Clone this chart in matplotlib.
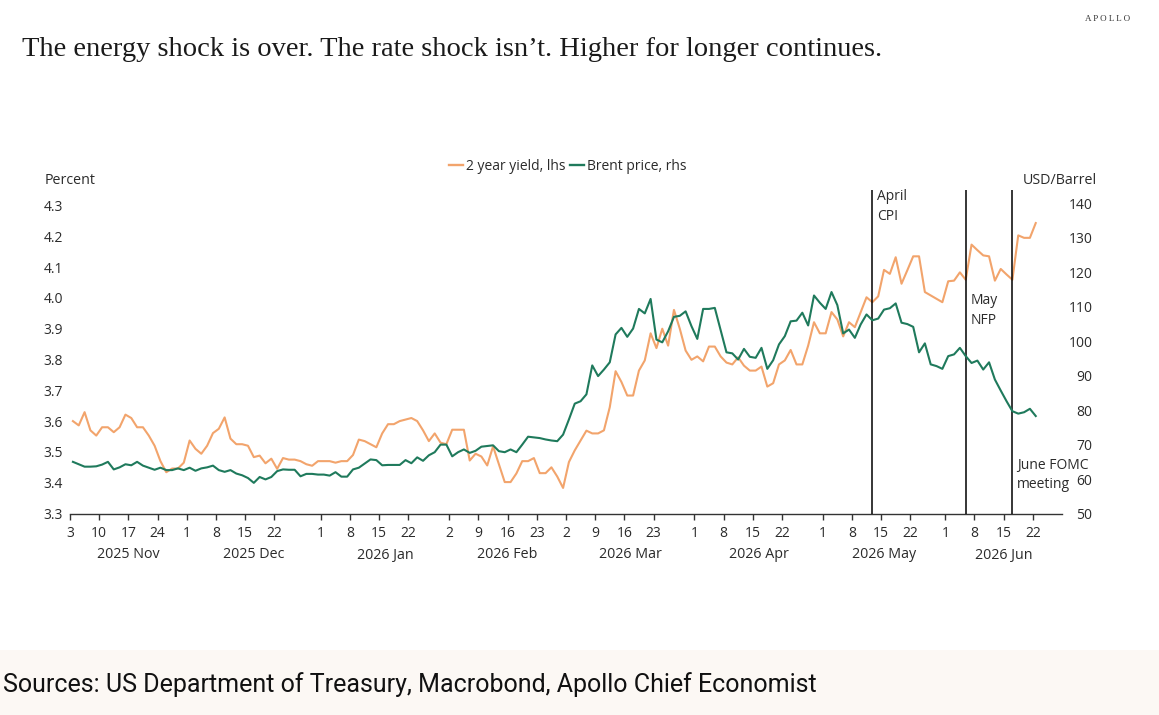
import matplotlib
matplotlib.use("Agg")
import matplotlib.pyplot as plt
import matplotlib.transforms as mtransforms
from matplotlib.lines import Line2D
from matplotlib.patches import Rectangle
import numpy as np
import pandas as pd

# ---------------- data ----------------
START_DATE = "2025-11-03"   # first business day of the series

# 2 year yield, percent (lhs), one value per business day
yield_2y = [
    3.600, 3.586, 3.629, 3.570, 3.553, 3.580, 3.580, 3.564, 3.580, 3.621,
    3.610, 3.580, 3.580, 3.553, 3.520, 3.470, 3.434, 3.446, 3.446, 3.465,
    3.537, 3.510, 3.494, 3.520, 3.561, 3.575, 3.612, 3.543, 3.525, 3.525,
    3.520, 3.483, 3.488, 3.463, 3.478, 3.445, 3.480, 3.475, 3.475, 3.470,
    3.460, 3.455, 3.470, 3.470, 3.470, 3.465, 3.470, 3.470, 3.490, 3.540,
    3.535, 3.525, 3.515, 3.560, 3.590, 3.590, 3.600, 3.605, 3.610, 3.600,
    3.570, 3.535, 3.560, 3.530, 3.525, 3.572, 3.572, 3.572, 3.472, 3.494,
    3.485, 3.456, 3.518, 3.460, 3.402, 3.402, 3.430, 3.470, 3.470, 3.480,
    3.431, 3.431, 3.450, 3.420, 3.383, 3.467, 3.505, 3.537, 3.569, 3.560,
    3.560, 3.570, 3.645, 3.762, 3.727, 3.683, 3.683, 3.764, 3.797, 3.885,
    3.837, 3.900, 3.845, 3.961, 3.900, 3.829, 3.799, 3.810, 3.794, 3.842,
    3.842, 3.810, 3.790, 3.784, 3.807, 3.780, 3.764, 3.764, 3.777, 3.712,
    3.723, 3.784, 3.797, 3.831, 3.784, 3.784, 3.845, 3.921, 3.885, 3.885,
    3.954, 3.930, 3.875, 3.921, 3.905, 3.954, 4.002, 3.986, 4.005, 4.091,
    4.078, 4.132, 4.046, 4.090, 4.135, 4.135, 4.019, 4.008, 3.997, 3.986,
    4.054, 4.056, 4.083, 4.059, 4.173, 4.155, 4.138, 4.135, 4.056, 4.094,
    4.076, 4.059, 4.203, 4.195, 4.195, 4.243,
]

# Brent price, USD/barrel (rhs)
brent = [
    65.0, 64.3, 63.6, 63.6, 63.7, 64.2, 65.0, 62.8, 63.4, 64.3,
    64.0, 65.0, 63.9, 63.3, 62.7, 63.3, 62.6, 62.6, 63.1, 62.6,
    63.3, 62.4, 63.1, 63.4, 63.9, 62.6, 62.1, 62.6, 61.6, 61.1,
    60.3, 58.9, 60.6, 59.9, 60.6, 62.3, 62.8, 62.7, 62.7, 60.8,
    61.5, 61.5, 61.3, 61.3, 61.0, 62.0, 60.7, 60.7, 62.8, 63.3,
    64.5, 65.7, 65.5, 64.0, 64.1, 64.1, 64.1, 65.5, 64.6, 66.3,
    65.3, 66.9, 67.8, 70.0, 70.0, 66.6, 67.8, 68.6, 67.6, 68.2,
    69.4, 69.6, 69.8, 68.1, 67.8, 68.6, 67.8, 70.0, 72.3, 72.1,
    71.9, 71.5, 71.2, 71.0, 72.9, 77.3, 81.9, 82.6, 84.6, 93.0,
    89.9, 91.8, 93.9, 102.0, 103.9, 101.3, 103.7, 109.4, 108.1, 112.3,
    100.5, 99.7, 102.9, 107.1, 107.4, 108.7, 104.4, 100.7, 109.4, 109.4,
    109.7, 103.2, 96.8, 96.5, 94.7, 97.8, 95.5, 95.2, 98.1, 92.0,
    94.5, 99.1, 101.5, 105.8, 106.0, 108.3, 104.6, 113.3, 111.2, 109.4,
    114.3, 110.5, 102.3, 103.4, 101.0, 104.9, 107.8, 106.1, 106.6, 109.2,
    109.6, 111.0, 105.4, 105.0, 104.2, 96.8, 99.4, 93.3, 92.8, 92.0,
    95.7, 96.2, 98.1, 95.7, 93.7, 94.4, 91.8, 93.9, 88.9, 85.7,
    82.6, 79.7, 79.0, 79.4, 80.4, 78.3,
]

event_dates = ["2026-05-13", "2026-06-04", "2026-06-16"]
event_labels = ["April\nCPI", "May\nNFP", "June FOMC\nmeeting"]

left_ticks = [3.3, 3.4, 3.5, 3.6, 3.7, 3.8, 3.9, 4.0, 4.1, 4.2, 4.3]
right_ticks = [50, 60, 70, 80, 90, 100, 110, 120, 130, 140]
tick_days = [1, 8, 15, 22]

title = "The energy shock is over. The rate shock isn\u2019t. Higher for longer continues."
source = "Sources: US Department of Treasury, Macrobond, Apollo Chief Economist"

# ---------------- styling ----------------
ORANGE = "#F2A46C"
GREEN = "#1F7A5C"
TXT = "#2b2b2b"
SANS = ["Open Sans", "DejaVu Sans"]
SERIF = ["Liberation Serif", "DejaVu Serif"]

W, H = 1159, 715
fig = plt.figure(figsize=(W / 100, H / 100), dpi=100)
fig.patch.set_facecolor("white")

# footer band
fig.patches.append(Rectangle((0, 0), 1, 65 / H, transform=fig.transFigure,
                             facecolor="#FCF8F4", edgecolor="none", zorder=0))

ax_l, ax_r, ax_b, ax_t = 70, 1062, 513.5, 190
ax = fig.add_axes([ax_l / W, (H - ax_b) / H, (ax_r - ax_l) / W, (ax_b - ax_t) / H])
ax2 = ax.twinx()

dates = pd.bdate_range(START_DATE, periods=len(yield_2y))
xpos = np.arange(len(dates)) + 0.5   # points at day centres

XMAX = 170
ax.set_xlim(0, XMAX)
ax.set_ylim(3.3, 3.3 + (ax_b - ax_t) / 308.0)
ax2.set_ylim(50, 50 + (ax_b - ax_t) / 3.444)

ax.plot(xpos, yield_2y, color=ORANGE, lw=1.5, solid_joinstyle="round", zorder=3)
ax2.plot(xpos, brent, color=GREEN, lw=1.5, solid_joinstyle="round", zorder=3)

for a in (ax, ax2):
    for s in ("top", "left", "right"):
        a.spines[s].set_visible(False)
ax2.spines["bottom"].set_visible(False)
ax.spines["bottom"].set_color("#333333")
ax.spines["bottom"].set_linewidth(1.0)

ax.set_yticks(left_ticks)
ax.set_yticklabels([f"{v:.1f}" for v in left_ticks])
ax.tick_params(axis="y", length=0, pad=5, labelsize=10, labelcolor=TXT)
ax2.set_yticks(right_ticks)
ax2.set_yticklabels([str(v) for v in right_ticks])
ax2.tick_params(axis="y", length=0, pad=22, labelsize=10, labelcolor=TXT)
for lab in ax2.get_yticklabels():
    lab.set_horizontalalignment("right")

# x ticks: days 1, 8, 15, 22 of each month rolled to business day
month_starts = pd.date_range(dates[0].replace(day=1), dates[-1], freq="MS")
tpos, tlab = [], []
for m in month_starts:
    for d in tick_days:
        t = m + pd.Timedelta(days=d - 1)
        i = dates.searchsorted(t)
        if i < len(dates) and dates[i].month == m.month:
            tpos.append(i)
            tlab.append(str(dates[i].day))
ax.set_xticks(tpos)
ax.set_xticklabels(tlab)
ax.tick_params(axis="x", length=4, width=1.0, color="#333333", pad=5,
               labelsize=10, labelcolor=TXT)

for lab in ax.get_xticklabels() + ax.get_yticklabels() + ax2.get_yticklabels():
    lab.set_fontfamily(SANS)

# month labels
trans = mtransforms.blended_transform_factory(ax.transData, ax.transAxes)
for j, m in enumerate(month_starts):
    s = dates.searchsorted(m)
    nxt = m + pd.offsets.MonthBegin(1)
    e = dates.searchsorted(nxt)
    if nxt > dates[-1]:
        e = XMAX
    e = min(e, XMAX)
    ax.text((s + e) / 2, (ax_b - 555) / (ax_b - ax_t), m.strftime("%Y %b"),
            transform=trans, ha="center", va="center", fontsize=10.3,
            color=TXT, family=SANS, clip_on=False)

# event lines (each label line drawn as its own text)
label_top = [196, 300, 465]   # centre of first label line, px from top
LINE_GAP = 20                 # px between label lines
for d, lab, ytop in zip(event_dates, event_labels, label_top):
    xe = dates.searchsorted(pd.Timestamp(d)) + 0.5
    ax.axvline(xe, color="black", lw=1.1, zorder=4)
    for n, part in enumerate(lab.split("\n")):
        ypx = ytop + n * LINE_GAP
        ax.text(xe + 0.8, (ax_b - ypx) / (ax_b - ax_t), part, transform=trans,
                ha="left", va="center", fontsize=10, color=TXT, family=SANS,
                zorder=5)

# axis titles
fig.text(45 / W, 1 - 181 / H, "Percent", ha="left", va="center",
         fontsize=10.3, color=TXT, family=SANS)
fig.text(1097 / W, 1 - 181 / H, "USD/Barrel", ha="right", va="center",
         fontsize=10.3, color=TXT, family=SANS)

# legend
handles = [Line2D([], [], color=ORANGE, lw=1.7), Line2D([], [], color=GREEN, lw=1.7)]
leg = fig.legend(handles, ["2 year yield, lhs", "Brent price, rhs"],
                 loc="center", bbox_to_anchor=(568 / W, 1 - 166 / H), ncol=2,
                 frameon=False, handlelength=1.0, handletextpad=0.2,
                 columnspacing=0.35, prop={"family": SANS, "size": 10})
for t in leg.get_texts():
    t.set_color(TXT)

# title and brand
fig.text(22 / W, 1 - 49 / H, title, ha="left", va="center", fontsize=20.5,
         color="#1a1a1a", family=SERIF)
fig.text(1130 / W, 1 - 19 / H, "A P O L L O", ha="right", va="center", fontsize=6.5,
         color="#333333", family=SERIF)

# source
fig.text(3 / W, 1 - 685 / H, source, ha="left", va="center", fontsize=18,
         color="#111111", family=["Roboto", "DejaVu Sans"])

fig.savefig("out.png", dpi=100, facecolor=fig.get_facecolor())
